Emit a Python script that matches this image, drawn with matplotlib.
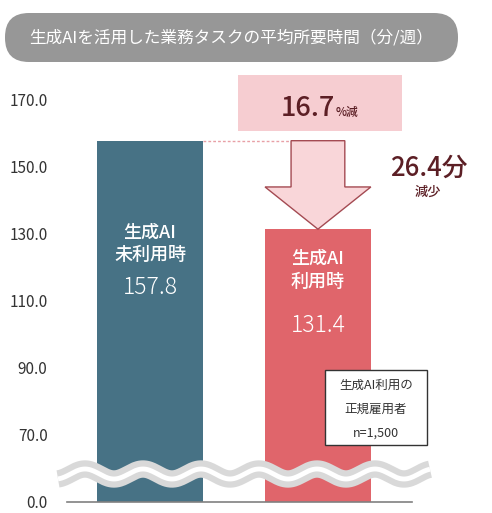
import numpy as np
import matplotlib
matplotlib.use("Agg")
import matplotlib.pyplot as plt
from matplotlib.patches import FancyBboxPatch, Rectangle, Polygon

plt.rcParams['font.family'] = ['Noto Sans CJK JP', 'DejaVu Sans']

# data
labels = ["生成AI\n未利用時", "生成AI\n利用時"]
values = [157.8, 131.4]
bar_colors = ["#477285", "#e0656b"]
ticks = [0, 70, 90, 110, 130, 150, 170]
title = "生成AIを活用した業務タスクの平均所要時間（分/週）"
pct_text = "16.7"
diff_text = "26.4分"
note = "生成AI利用の\n正規雇用者\nn=1,500"

dark = "#5c1f25"


# broken axis: 0-70 squeezed into the space of 20 units
def fwd(v):
    v = np.asarray(v, dtype=float)
    return np.where(v >= 70, v, 50 + v * 20 / 70)


def inv(u):
    u = np.asarray(u, dtype=float)
    return np.where(u >= 70, u, (u - 50) * 70 / 20)


W, H = 492, 513
fig = plt.figure(figsize=(W / 100, H / 100), dpi=100)
ax = fig.add_axes([67 / W, 11 / H, 345 / W, 429 / H])
ax.set_yscale('function', functions=(fwd, inv))
ax.set_ylim(0, 178)
ax.set_xlim(-0.494, 1.56)

x = np.arange(len(values))
bw = 0.63
ax.bar(x, values, width=bw, color=bar_colors, zorder=2)

ax.set_yticks(ticks)
ax.set_yticklabels([f"{t:.1f}" for t in ticks])
ax.tick_params(axis='y', length=0, pad=14, labelsize=11, labelcolor="#333333")
ax.set_xticks([])
for s in ["top", "right", "left"]:
    ax.spines[s].set_visible(False)
ax.spines["bottom"].set_color("#808080")
ax.spines["bottom"].set_linewidth(1.2)

# labels inside bars
name_y = [(130.3, 123.7), (122.5, 115.7)]
num_y = [113.9, 102.8]
for i, (lab, v) in enumerate(zip(labels, values)):
    l1, l2 = lab.split("\n")
    ax.text(x[i], name_y[i][0], l1, ha='center', va='center', color='white',
            fontsize=13, fontweight='medium')
    ax.text(x[i], name_y[i][1], l2, ha='center', va='center', color='white',
            fontsize=13, fontweight='medium')
    ax.text(x[i], num_y[i], f"{v:.1f}", ha='center', va='center', color='white',
            fontsize=16.5, fontweight='light')

# dashed guide and down arrow between the two values
shaft = 0.16
ax.plot([x[0] + bw / 2, x[1] - shaft], [values[0], values[0]], ls=(0, (2, 1.5)),
        color="#e8a0a6", lw=1, zorder=3)
head_start = 144
arrow = Polygon([(x[1] - shaft, values[0]), (x[1] + shaft, values[0]),
                 (x[1] + shaft, head_start), (x[1] + bw / 2, head_start),
                 (x[1], values[1]), (x[1] - bw / 2, head_start),
                 (x[1] - shaft, head_start)],
                closed=True, facecolor="#f9d6d9", edgecolor="#a44a52", lw=1, zorder=3)
ax.add_patch(arrow)

# overlay in pixel coordinates
ov = fig.add_axes([0, 0, 1, 1])
ov.set_xlim(0, W)
ov.set_ylim(H, 0)
ov.axis('off')
ov.patch.set_alpha(0)

pill = FancyBboxPatch((5, 13), 453, 49, boxstyle="round,pad=0,rounding_size=24",
                      facecolor="#979797", edgecolor="none")
ov.add_patch(pill)
ov.text(231, 38, title, ha='center', va='center', color='white', fontsize=12)

ov.add_patch(Rectangle((238, 75), 164, 56, facecolor="#f6cdd1", edgecolor="none"))
ov.text(335, 116, pct_text, ha='right', va='baseline', color=dark, fontsize=19.5,
        fontweight='medium')
ov.text(336, 116, "%減", ha='left', va='baseline', color=dark, fontsize=8.5,
        fontweight='medium')

ov.text(429, 168, diff_text, ha='center', va='center', color=dark, fontsize=18.5,
        fontweight='medium')
ov.text(428, 192, "減少", ha='center', va='center', color=dark, fontsize=9.5,
        fontweight='medium')

# wavy break mark
wx = np.linspace(58, 430, 400)
wy = 474 - 5 * np.cos(2 * np.pi * (wx - 85) / 58)
ov.plot(wx, wy, color="#d9d9d9", lw=12.5, solid_capstyle='butt')
ov.plot(wx, wy, color="white", lw=3.5, solid_capstyle='butt')

# sample note
ov.add_patch(Rectangle((325, 370), 102, 75, facecolor="white", edgecolor="#333333", lw=1))
for j, line in enumerate(note.split("\n")):
    ov.text(376, 385 + j * 24, line, ha='center', va='center', color="#333333",
            fontsize=9)

fig.savefig("out.png", dpi=100)
